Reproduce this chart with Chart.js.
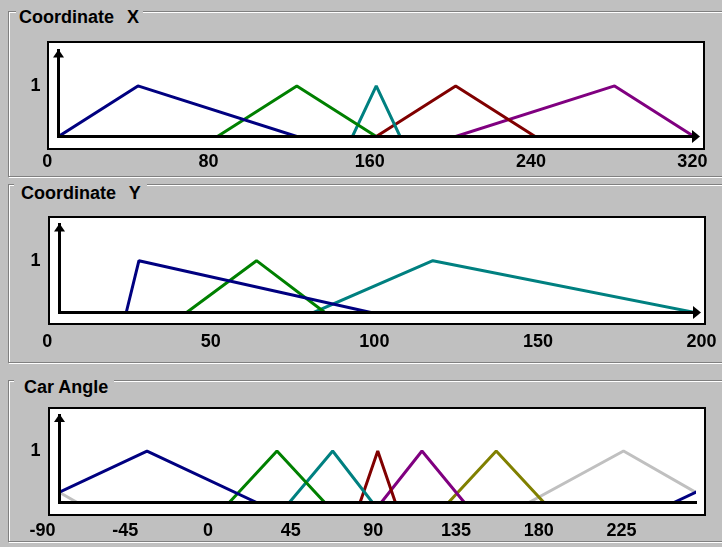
<!DOCTYPE html>
<html>
<head>
<meta charset="utf-8">
<script src="https://cdn.jsdelivr.net/npm/chart.js@4"></script>
<style>
  html, body { margin:0; padding:0; background:#c0c0c0; overflow:hidden; width:722px; height:547px; }
  .box { position:absolute; box-sizing:border-box; }
  .dark { border:1px solid #808080; }
  .light { border:1px solid #ffffff; }
  .title { position:absolute; background:#c0c0c0; font:bold 18px "Liberation Sans", Arial, sans-serif; line-height:18px; color:#000; white-space:pre; }
  .plot { position:absolute; box-sizing:border-box; background:#fff; border:2px solid #000; }
  canvas { position:absolute; left:0; }
</style>
</head>
<body>
<div class="box light" style="left:9px;top:12px;width:800px;height:166px"></div>
<div class="box dark"  style="left:8px;top:11px;width:800px;height:166px"></div>
<div class="box light" style="left:9px;top:185px;width:800px;height:179px"></div>
<div class="box dark"  style="left:8px;top:184px;width:800px;height:179px"></div>
<div class="box light" style="left:9px;top:381px;width:800px;height:162px"></div>
<div class="box dark"  style="left:8px;top:380px;width:800px;height:162px"></div>

<div class="title" style="left:16px;top:7.5px;padding:0 4px 0 3px;word-spacing:8px">Coordinate X</div>
<div class="title" style="left:14px;top:183.5px;padding:0 6px 0 7px;word-spacing:8px">Coordinate Y</div>
<div class="title" style="left:14px;top:378px;padding:0 6px 0 10px">Car Angle</div>

<div class="plot" style="left:47px;top:41px;width:658px;height:109px"></div>
<div class="plot" style="left:48px;top:216px;width:658px;height:109px"></div>
<div class="plot" style="left:48px;top:407px;width:658px;height:109px"></div>

<canvas id="c1" width="760" height="180" style="top:0px"></canvas>
<canvas id="c2" width="760" height="185" style="top:180px"></canvas>
<canvas id="c3" width="760" height="182" style="top:365px"></canvas>

<script>
// ---------------- data ----------------
const membershipTicks = [1];

const coordXTicks = [0, 80, 160, 240, 320];
const coordXSets = [
  [0, 40, 120],
  [80, 120, 160],
  [148, 160, 172],
  [160, 200, 240],
  [200, 280, 320]
];

const coordYTicks = [0, 50, 100, 150, 200];
const coordYSets = [
  [21, 25, 98],
  [40, 62, 83.5],
  [80, 117.5, 200]
];

const angleTicks = [-90, -45, 0, 45, 90, 135, 180, 225];
const angleSets = [
  [-102.5, -40.5, 21.5],
  [6, 33, 60],
  [40, 64.5, 87],
  [80, 90, 100],
  [92, 115, 139],
  [130, 157, 184],
  [175.5, 229, 280]
];

// ---------------- styles / layout ----------------
const FONT = '"Liberation Sans", Arial, sans-serif';
Chart.defaults.font.family = FONT;
const tickFont = { family: FONT, size: 18, weight: 'bold' };

const panels = [
  { id: 'c1', top: 0, height: 180,
    area: { left: 58.5, right: 694, top: 50.5, bottom: 136.5 },
    domain: [0, 320], labelRange: [5.6, 320.8], ticks: coordXTicks, sets: coordXSets,
    colors: ['#000080', '#008000', '#008080', '#800000', '#800080'],
    yPad: 18, xPad: 15, arrowX: true, period: null },
  { id: 'c2', top: 180, height: 185,
    area: { left: 59.5, right: 695, top: 224.4, bottom: 312.5 },
    domain: [0, 200], labelRange: [3.76, 198.0], ticks: coordYTicks, sets: coordYSets,
    colors: ['#000080', '#008000', '#008080'],
    yPad: 19, xPad: 19.2, arrowX: true, period: null },
  { id: 'c3', top: 365, height: 182,
    area: { left: 59.5, right: 696, top: 415, bottom: 502.5 },
    domain: [-90, 270], labelRange: [-80.8, 265.6], ticks: angleTicks, sets: angleSets,
    colors: ['#000080', '#008000', '#008080', '#800000', '#800080', '#808000', '#c0c0c0'],
    yPad: 19, xPad: 17.5, arrowX: false, period: 360 }
];

const axisArrows = {
  id: 'axisArrows',
  afterDraw(chart, args, opts) {
    const { ctx, chartArea: a } = chart;
    ctx.save();
    ctx.fillStyle = '#000';
    ctx.beginPath();
    ctx.moveTo(a.left, a.top - 1);
    ctx.lineTo(a.left + 5.5, a.top + 7);
    ctx.lineTo(a.left - 5.5, a.top + 7);
    ctx.closePath();
    ctx.fill();
    if (opts.x) {
      ctx.beginPath();
      ctx.moveTo(a.right + 6, a.bottom);
      ctx.lineTo(a.right - 2, a.bottom - 6.5);
      ctx.lineTo(a.right - 2, a.bottom + 6.5);
      ctx.closePath();
      ctx.fill();
    }
    ctx.restore();
  }
};

function buildDatasets(p) {
  const out = [];
  p.sets.forEach((s, i) => {
    const shifts = [0];
    if (p.period) {
      if (s[0] < p.domain[0]) shifts.push(p.period);
      if (s[2] > p.domain[1]) shifts.push(-p.period);
    }
    shifts.forEach(d => out.push({
      data: [{ x: s[0] + d, y: 0 }, { x: s[1] + d, y: 1 }, { x: s[2] + d, y: 0 }],
      showLine: true,
      borderColor: p.colors[i],
      backgroundColor: p.colors[i],
      borderWidth: 3,
      pointRadius: 0,
      pointHoverRadius: 0,
      fill: false,
      tension: 0,
      borderJoinStyle: 'bevel',
      clip: { left: 0, top: 4, right: 0, bottom: 0 }
    }));
  });
  return out;
}

panels.forEach(p => {
  const canvas = document.getElementById(p.id);
  const W = canvas.width, H = canvas.height;
  const aTop = p.area.top - p.top, aBottom = p.area.bottom - p.top;
  const LABEL_H = 40;
  new Chart(canvas, {
    type: 'scatter',
    data: { datasets: buildDatasets(p) },
    options: {
      responsive: false,
      animation: false,
      devicePixelRatio: 1,
      events: [],
      layout: { padding: { left: 0, top: aTop, right: W - p.area.right, bottom: H - aBottom - LABEL_H } },
      plugins: { legend: { display: false }, tooltip: { enabled: false }, axisArrows: { x: p.arrowX } },
      scales: {
        x: {
          type: 'linear', position: 'bottom', weight: 0,
          min: p.domain[0], max: p.domain[1],
          grid: { display: false, drawTicks: false },
          border: { display: true, color: '#000', width: 3, z: 1 },
          ticks: { display: false },
          afterFit: s => { s.height = 0; }
        },
        xl: {
          type: 'linear', position: 'bottom', weight: 1,
          min: p.labelRange[0], max: p.labelRange[1],
          grid: { display: false, drawTicks: false },
          border: { display: false },
          ticks: { autoSkip: false, maxRotation: 0, minRotation: 0, padding: p.xPad, font: tickFont, color: '#000',
                   callback: v => String(v) },
          afterBuildTicks: s => { s.ticks = p.ticks.map(v => ({ value: v })); },
          afterFit: s => { s.height = LABEL_H; }
        },
        y: {
          type: 'linear', position: 'left',
          min: 0, max: 1.7,
          grid: { display: false, drawTicks: false },
          border: { display: true, color: '#000', width: 3, z: 1 },
          ticks: { padding: p.yPad, font: tickFont, color: '#000', callback: v => String(v) },
          afterBuildTicks: s => { s.ticks = membershipTicks.map(v => ({ value: v })); },
          afterFit: s => { s.width = p.area.left; }
        }
      }
    },
    plugins: [axisArrows]
  });
});
</script>
</body>
</html>
